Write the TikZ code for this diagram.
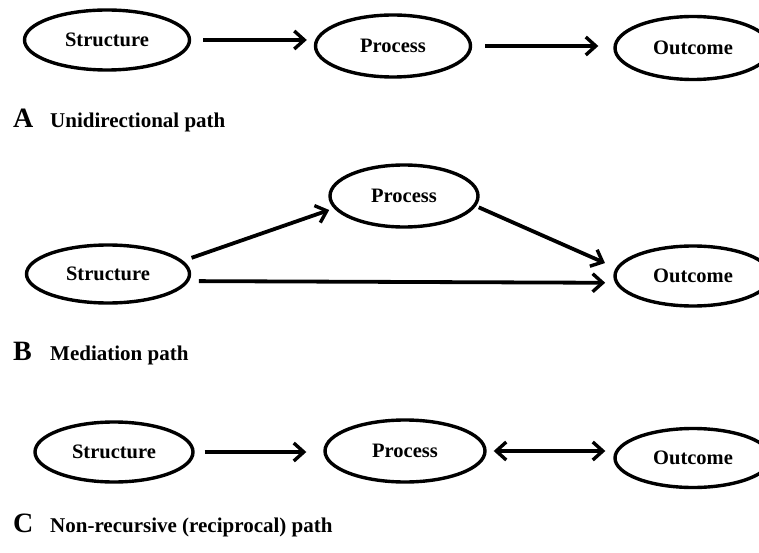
\documentclass[tikz,border=0pt]{standalone}
\usepackage{fontspec}
\setmainfont{Liberation Serif}
\usetikzlibrary{shapes.geometric,arrows.meta}
\begin{document}
\begin{tikzpicture}[x=1pt,y=-1pt,
  oval/.style={ellipse,draw,line width=3.4pt,inner sep=0pt,
    font=\fontsize{20.5}{22}\selectfont\bfseries},
  link/.style={line width=3.8pt,-{Straight Barb[length=10pt,width=18pt,line width=3.4pt]}},
  twoway/.style={line width=3.8pt,{Straight Barb[length=10pt,width=18pt,line width=3.4pt]}-{Straight Barb[length=10pt,width=18pt,line width=3.4pt]}},
  tag/.style={anchor=base west,inner sep=0pt,font=\fontsize{28}{30}\selectfont\bfseries},
  caption/.style={anchor=base west,inner sep=0pt,font=\fontsize{21}{24}\selectfont\bfseries}]
\useasboundingbox (0,0) rectangle (759,553);
\clip (0,0) rectangle (759,553);

\node[oval,minimum width=165,minimum height=60] (sA) at (107,40) {Structure};
\node[oval,minimum width=155,minimum height=62] (pA) at (393,46) {Process};
\node[oval,minimum width=156,minimum height=63] (oA) at (693,48) {Outcome};
\draw[link,shorten <=12pt,shorten >=7pt] (sA.east) -- (sA.east -| pA.west);
\draw[link,shorten <=13pt,shorten >=15pt] (pA.east) -- (pA.east -| oA.west);
\node[tag] (tagA) at (13,128) {A};
\node[caption] (capA) at (50,128) {Unidirectional path};

\node[oval,minimum width=148,minimum height=62] (pB) at (404,196) {Process};
\node[oval,minimum width=163,minimum height=58] (sB) at (108,274) {Structure};
\node[oval,minimum width=156,minimum height=60] (oB) at (693,276) {Outcome};
\draw[link,shorten <=9pt,shorten >=5pt] (sB.10) -- (pB.190);
\draw[link,shorten <=3pt,shorten >=12pt] (pB.-8) -- (oB.174);
\draw[link,shorten <=10pt,shorten >=10pt] (sB.-5) -- (oB.-175);
\node[tag] (tagB) at (13,360) {B};
\node[caption] (capB) at (50,360) {Mediation path};

\node[oval,minimum width=158,minimum height=60] (sC) at (114,452) {Structure};
\node[oval,minimum width=160,minimum height=62] (pC) at (405,451) {Process};
\node[oval,minimum width=156,minimum height=59] (oC) at (693,458) {Outcome};
\draw[link,shorten <=10pt,shorten >=17pt] (sC.east) -- (sC.east -| pC.west);
\draw[twoway,shorten <=7pt,shorten >=8pt] (pC.east) -- (pC.east -| oC.west);
\node[tag] (tagC) at (13,532) {C};
\node[caption] (capC) at (50,532) {Non-recursive (reciprocal) path};
\end{tikzpicture}
\end{document}
